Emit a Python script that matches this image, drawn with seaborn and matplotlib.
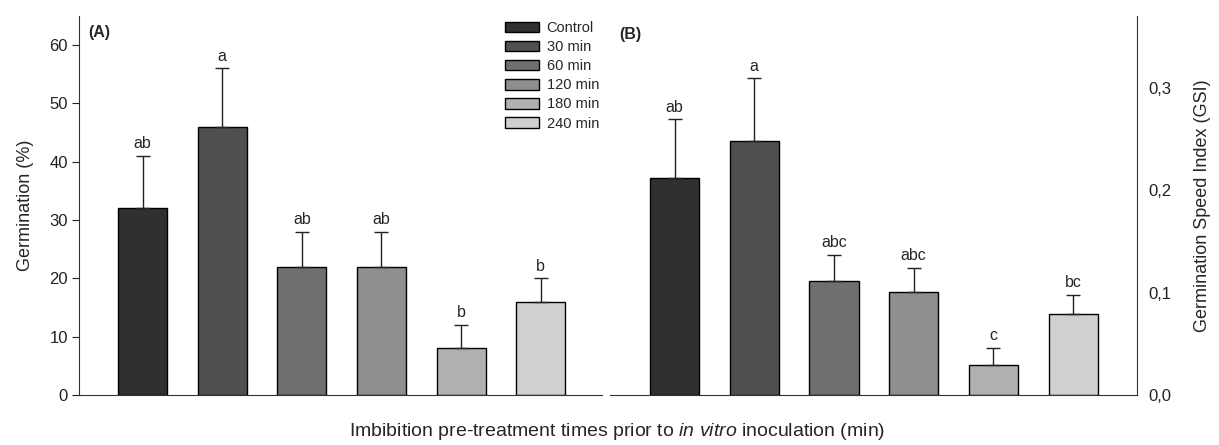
import numpy as np
import pandas as pd
import seaborn as sns
import matplotlib.pyplot as plt
from matplotlib.ticker import FuncFormatter

treatments = ["Control", "30 min", "60 min", "120 min", "180 min", "240 min"]
germ_mean = [32, 46, 22, 22, 8, 16]
germ_se = [9, 10, 6, 6, 4, 4]
germ_letters = ["ab", "a", "ab", "ab", "b", "b"]
gsi_mean = [0.212, 0.248, 0.111, 0.101, 0.029, 0.079]
gsi_se = [0.057, 0.061, 0.026, 0.023, 0.017, 0.019]
gsi_letters = ["ab", "a", "abc", "abc", "c", "bc"]
colors = ["#303030", "#505050", "#6f6f6f", "#8f8f8f", "#b0b0b0", "#d0d0d0"]

sns.set_style("ticks")
plt.rcParams['font.family'] = ['Liberation Sans', 'DejaVu Sans']
plt.rcParams['mathtext.fontset'] = 'custom'
plt.rcParams['mathtext.it'] = 'Liberation Sans:italic'
plt.rcParams['mathtext.rm'] = 'Liberation Sans'

df = pd.DataFrame({"treatment": treatments, "germ": germ_mean, "gsi": gsi_mean})

fig = plt.figure(figsize=(12.19, 4.45), dpi=100)
ax1 = fig.add_axes([0.0648, 0.1124, 0.429, 0.8517])
ax2 = fig.add_axes([0.5004, 0.1124, 0.4323, 0.8517])


def draw_panel(ax, col, err, letters):
    sns.barplot(data=df, x="treatment", y=col, hue="treatment", palette=colors,
                order=treatments, hue_order=treatments, dodge=False, width=0.615,
                edgecolor="black", linewidth=1.0, legend=False, ax=ax)
    vals = df[col].values
    xs = np.arange(len(treatments))
    ax.errorbar(xs, vals, yerr=[np.zeros(len(vals)), err], fmt="none",
                ecolor="#222222", elinewidth=1, capsize=4.7, capthick=1)
    for x, v, e, t in zip(xs, vals, err, letters):
        ax.annotate(t, (x, v + e), xytext=(0, 3.5), textcoords="offset points",
                    ha="center", va="bottom", fontsize=11.5)
    ax.set_xticks([])
    ax.set_xlabel("")
    ax.set_ylabel("")


draw_panel(ax1, "germ", germ_se, germ_letters)
ax1.set_xlim(-0.80, 5.77)
ax1.set_ylim(0, 65)
ax1.set_yticks([0, 10, 20, 30, 40, 50, 60])
ax1.set_ylabel("Germination (%)", fontsize=13)
ax1.yaxis.set_label_coords(-0.086, 0.5)
sns.despine(ax=ax1)
ax1.text(0.017, 0.975, "(A)", transform=ax1.transAxes, fontweight="bold",
         fontsize=11.5, va="top")

draw_panel(ax2, "gsi", gsi_se, gsi_letters)
ax2.set_xlim(-0.81, 5.80)
ax2.set_ylim(0, 0.370)
ax2.set_yticks([0, 0.1, 0.2, 0.3])
ax2.yaxis.set_major_formatter(FuncFormatter(lambda v, p: f"{v:.1f}".replace(".", ",")))
ax2.yaxis.tick_right()
ax2.yaxis.set_label_position("right")
ax2.set_ylabel("Germination Speed Index (GSI)", fontsize=13)
ax2.yaxis.set_label_coords(1.108, 0.5)
sns.despine(ax=ax2, left=True, right=False)
ax2.text(0.017, 0.97, "(B)", transform=ax2.transAxes, fontweight="bold",
         fontsize=11.5, va="top")

for ax in (ax1, ax2):
    ax.tick_params(axis="y", labelsize=12, length=5, width=0.8, colors="#222222", pad=3)
    for s in ax.spines.values():
        s.set_linewidth(0.8)
        s.set_color("#333333")

handles = [plt.Rectangle((0, 0), 1, 1, facecolor=c, edgecolor="black", linewidth=1.0)
           for c in colors]
leg = fig.legend(handles, treatments, loc="upper left",
                 bbox_to_anchor=(505 / 1219, 1 - 21 / 445),
                 frameon=False, fontsize=10.5, handlelength=2.3, handleheight=0.75,
                 labelspacing=0.35, handletextpad=0.55, borderpad=0, borderaxespad=0)

fig.text(0.506, 0.006, "Imbibition pre-treatment times prior to $in\\ vitro$ inoculation (min)",
         ha="center", va="bottom", fontsize=14)

fig.savefig("out.png", dpi=100)
